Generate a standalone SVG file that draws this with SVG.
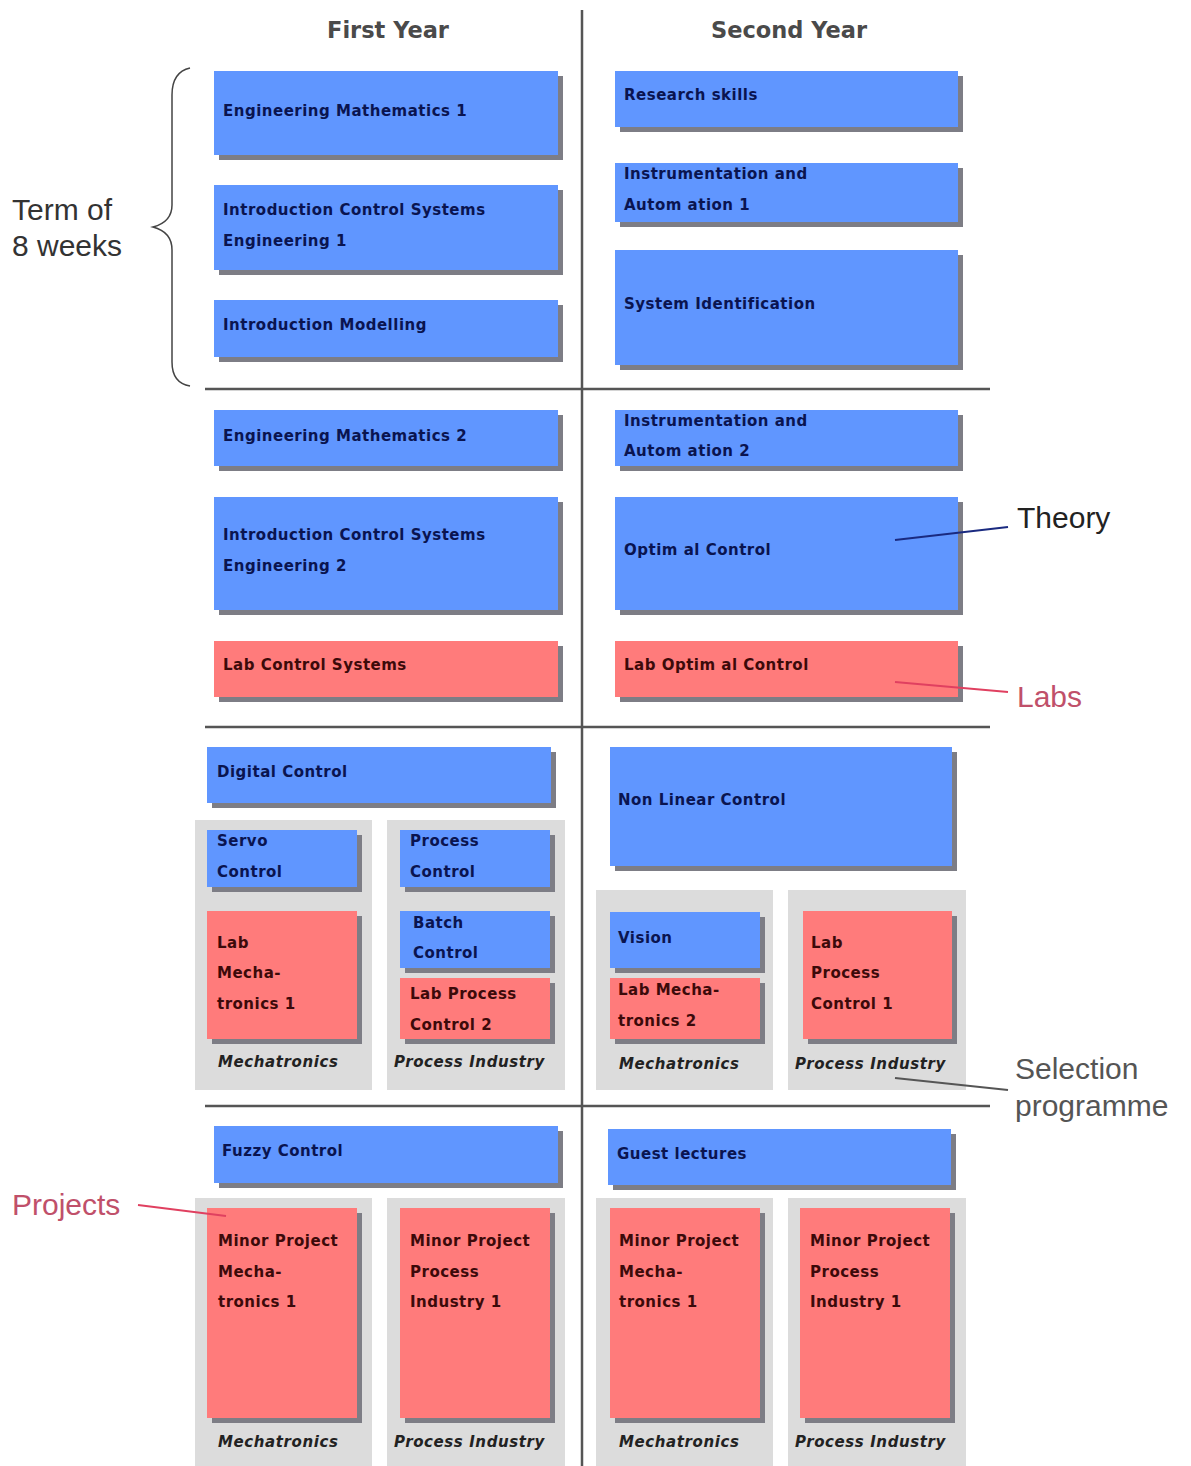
<svg xmlns="http://www.w3.org/2000/svg" width="1191" height="1466" viewBox="0 0 1191 1466">
<style>
.bg{fill:#ffffff}
.sh{fill:#7d7d85}
.b{fill:#6096ff}
.r{fill:#ff7b7b}
.grp{fill:#dcdcdc}
.bt{font-family:"DejaVu Sans",Verdana,sans-serif;font-weight:bold;font-size:15px;letter-spacing:0.5px;fill:#0a1450}
.rt{font-family:"DejaVu Sans",Verdana,sans-serif;font-weight:bold;font-size:15px;letter-spacing:0.5px;fill:#3c0a0a}
.gl{font-family:"DejaVu Sans",Verdana,sans-serif;font-weight:bold;font-style:italic;font-size:15px;letter-spacing:0.6px;fill:#222}
.hd{font-family:"DejaVu Sans",Verdana,sans-serif;font-weight:bold;font-size:22.5px;fill:#4a4a4a}
.ann{font-family:"Liberation Sans",Arial,sans-serif;font-size:30px}
.div{stroke:#555;stroke-width:2.5;fill:none}
</style>
<rect class="bg" x="0" y="0" width="1191" height="1466"/>

<!-- headers -->
<text class="hd" x="388" y="38" text-anchor="middle">First Year</text>
<text class="hd" x="789" y="38" text-anchor="middle">Second Year</text>

<!-- dividers -->
<line class="div" x1="582" y1="10" x2="582" y2="1466"/>
<line class="div" x1="205" y1="389" x2="990" y2="389"/>
<line class="div" x1="205" y1="727" x2="990" y2="727"/>
<line class="div" x1="205" y1="1106" x2="990" y2="1106"/>

<!-- gray selection groups -->
<rect class="grp" x="195" y="820" width="177" height="270"/>
<rect class="grp" x="387" y="820" width="178" height="270"/>
<rect class="grp" x="596" y="890" width="177" height="200"/>
<rect class="grp" x="788" y="890" width="178" height="200"/>
<rect class="grp" x="195" y="1198" width="177" height="268"/>
<rect class="grp" x="387" y="1198" width="178" height="268"/>
<rect class="grp" x="596" y="1198" width="177" height="268"/>
<rect class="grp" x="788" y="1198" width="178" height="268"/>
<text class="gl" x="218" y="1067">Mechatronics</text>
<text class="gl" x="394" y="1067">Process Industry</text>
<text class="gl" x="619" y="1069">Mechatronics</text>
<text class="gl" x="795" y="1069">Process Industry</text>
<text class="gl" x="218" y="1447">Mechatronics</text>
<text class="gl" x="394" y="1447">Process Industry</text>
<text class="gl" x="619" y="1447">Mechatronics</text>
<text class="gl" x="795" y="1447">Process Industry</text>

<!-- First year, term 1 -->
<g id="eng-math-1"><rect class="sh" x="219" y="76" width="344" height="84"/><rect class="b" x="214" y="71" width="344" height="84"/><text class="bt" x="223" y="116">Engineering Mathematics 1</text></g>
<g id="icse-1"><rect class="sh" x="219" y="190" width="344" height="85"/><rect class="b" x="214" y="185" width="344" height="85"/><text class="bt" x="223" y="215">Introduction Control Systems</text><text class="bt" x="223" y="246">Engineering 1</text></g>
<g id="intro-modelling"><rect class="sh" x="219" y="305" width="344" height="57"/><rect class="b" x="214" y="300" width="344" height="57"/><text class="bt" x="223" y="330">Introduction Modelling</text></g>

<!-- Second year, term 1 -->
<g id="research-skills"><rect class="sh" x="620" y="76" width="343" height="56"/><rect class="b" x="615" y="71" width="343" height="56"/><text class="bt" x="624" y="100">Research skills</text></g>
<g id="ia-1"><rect class="sh" x="620" y="168" width="343" height="59"/><rect class="b" x="615" y="163" width="343" height="59"/><text class="bt" x="624" y="179">Instrumentation and</text><text class="bt" x="624" y="210">Autom ation 1</text></g>
<g id="system-id"><rect class="sh" x="620" y="255" width="343" height="115"/><rect class="b" x="615" y="250" width="343" height="115"/><text class="bt" x="624" y="309">System Identification</text></g>

<!-- term 2 -->
<g id="eng-math-2"><rect class="sh" x="219" y="415" width="344" height="56"/><rect class="b" x="214" y="410" width="344" height="56"/><text class="bt" x="223" y="441">Engineering Mathematics 2</text></g>
<g id="icse-2"><rect class="sh" x="219" y="502" width="344" height="113"/><rect class="b" x="214" y="497" width="344" height="113"/><text class="bt" x="223" y="540">Introduction Control Systems</text><text class="bt" x="223" y="571">Engineering 2</text></g>
<g id="lab-control-systems"><rect class="sh" x="219" y="646" width="344" height="56"/><rect class="r" x="214" y="641" width="344" height="56"/><text class="rt" x="223" y="670">Lab Control Systems</text></g>
<g id="ia-2"><rect class="sh" x="620" y="415" width="343" height="56"/><rect class="b" x="615" y="410" width="343" height="56"/><text class="bt" x="624" y="426">Instrumentation and</text><text class="bt" x="624" y="456">Autom ation 2</text></g>
<g id="optimal-control"><rect class="sh" x="620" y="502" width="343" height="113"/><rect class="b" x="615" y="497" width="343" height="113"/><text class="bt" x="624" y="555">Optim al Control</text></g>
<g id="lab-optimal-control"><rect class="sh" x="620" y="646" width="343" height="56"/><rect class="r" x="615" y="641" width="343" height="56"/><text class="rt" x="624" y="670">Lab Optim al Control</text></g>

<!-- term 3 -->
<g id="digital-control"><rect class="sh" x="212" y="752" width="344" height="56"/><rect class="b" x="207" y="747" width="344" height="56"/><text class="bt" x="217" y="777">Digital Control</text></g>
<g id="servo-control"><rect class="sh" x="212" y="835" width="150" height="57"/><rect class="b" x="207" y="830" width="150" height="57"/><text class="bt" x="217" y="846">Servo</text><text class="bt" x="217" y="877">Control</text></g>
<g id="lab-mechatronics-1"><rect class="sh" x="212" y="916" width="150" height="128"/><rect class="r" x="207" y="911" width="150" height="128"/><text class="rt" x="217" y="948">Lab</text><text class="rt" x="217" y="978">Mecha-</text><text class="rt" x="217" y="1009">tronics 1</text></g>
<g id="process-control"><rect class="sh" x="405" y="835" width="150" height="57"/><rect class="b" x="400" y="830" width="150" height="57"/><text class="bt" x="410" y="846">Process</text><text class="bt" x="410" y="877">Control</text></g>
<g id="batch-control"><rect class="sh" x="405" y="916" width="150" height="57"/><rect class="b" x="400" y="911" width="150" height="57"/><text class="bt" x="413" y="928">Batch</text><text class="bt" x="413" y="958">Control</text></g>
<g id="lab-process-control-2"><rect class="sh" x="405" y="983" width="150" height="61"/><rect class="r" x="400" y="978" width="150" height="61"/><text class="rt" x="410" y="999">Lab Process</text><text class="rt" x="410" y="1030">Control 2</text></g>
<g id="non-linear-control"><rect class="sh" x="615" y="752" width="342" height="119"/><rect class="b" x="610" y="747" width="342" height="119"/><text class="bt" x="618" y="805">Non Linear Control</text></g>
<g id="vision"><rect class="sh" x="615" y="917" width="150" height="56"/><rect class="b" x="610" y="912" width="150" height="56"/><text class="bt" x="618" y="943">Vision</text></g>
<g id="lab-mechatronics-2"><rect class="sh" x="615" y="983" width="150" height="61"/><rect class="r" x="610" y="978" width="150" height="61"/><text class="rt" x="618" y="995">Lab Mecha-</text><text class="rt" x="618" y="1026">tronics 2</text></g>
<g id="lab-process-control-1"><rect class="sh" x="808" y="916" width="149" height="128"/><rect class="r" x="803" y="911" width="149" height="128"/><text class="rt" x="811" y="948">Lab</text><text class="rt" x="811" y="978">Process</text><text class="rt" x="811" y="1009">Control 1</text></g>

<!-- term 4 -->
<g id="fuzzy-control"><rect class="sh" x="219" y="1131" width="344" height="57"/><rect class="b" x="214" y="1126" width="344" height="57"/><text class="bt" x="222" y="1156">Fuzzy Control</text></g>
<g id="guest-lectures"><rect class="sh" x="613" y="1134" width="343" height="56"/><rect class="b" x="608" y="1129" width="343" height="56"/><text class="bt" x="617" y="1159">Guest lectures</text></g>
<g id="minor-project-mech-y1"><rect class="sh" x="212" y="1213" width="150" height="210"/><rect class="r" x="207" y="1208" width="150" height="210"/><text class="rt" x="218" y="1246">Minor Project</text><text class="rt" x="218" y="1277">Mecha-</text><text class="rt" x="218" y="1307">tronics 1</text></g>
<g id="minor-project-proc-y1"><rect class="sh" x="405" y="1213" width="150" height="210"/><rect class="r" x="400" y="1208" width="150" height="210"/><text class="rt" x="410" y="1246">Minor Project</text><text class="rt" x="410" y="1277">Process</text><text class="rt" x="410" y="1307">Industry 1</text></g>
<g id="minor-project-mech-y2"><rect class="sh" x="615" y="1213" width="150" height="210"/><rect class="r" x="610" y="1208" width="150" height="210"/><text class="rt" x="619" y="1246">Minor Project</text><text class="rt" x="619" y="1277">Mecha-</text><text class="rt" x="619" y="1307">tronics 1</text></g>
<g id="minor-project-proc-y2"><rect class="sh" x="805" y="1213" width="150" height="210"/><rect class="r" x="800" y="1208" width="150" height="210"/><text class="rt" x="810" y="1246">Minor Project</text><text class="rt" x="810" y="1277">Process</text><text class="rt" x="810" y="1307">Industry 1</text></g>

<!-- annotations -->
<g id="term-label"><text class="ann" x="12" y="220" fill="#333">Term of</text><text class="ann" x="12" y="256" fill="#333">8 weeks</text></g>
<g id="theory-label"><text class="ann" x="1017" y="528" fill="#222">Theory</text></g>
<g id="labs-label"><text class="ann" x="1017" y="707" fill="#c0506a">Labs</text></g>
<g id="selection-label"><text class="ann" x="1015" y="1079" fill="#555">Selection</text><text class="ann" x="1015" y="1116" fill="#555">programme</text></g>
<g id="projects-label"><text class="ann" x="12" y="1215" fill="#c0506a">Projects</text></g>

<!-- connectors -->
<g id="connectors" fill="none" stroke-width="2">
<path d="M190,68 Q172,72 172,95 L172,205 Q172,222 153,227 Q172,232 172,250 L172,362 Q172,383 190,386" stroke="#444" stroke-width="1.5"/>
<line x1="895" y1="540" x2="1008" y2="527" stroke="#1a2a80"/>
<line x1="895" y1="682" x2="1008" y2="692" stroke="#e04060"/>
<line x1="895" y1="1078" x2="1008" y2="1090" stroke="#555"/>
<line x1="138" y1="1205" x2="226" y2="1216" stroke="#e04060"/>
</g>
</svg>
